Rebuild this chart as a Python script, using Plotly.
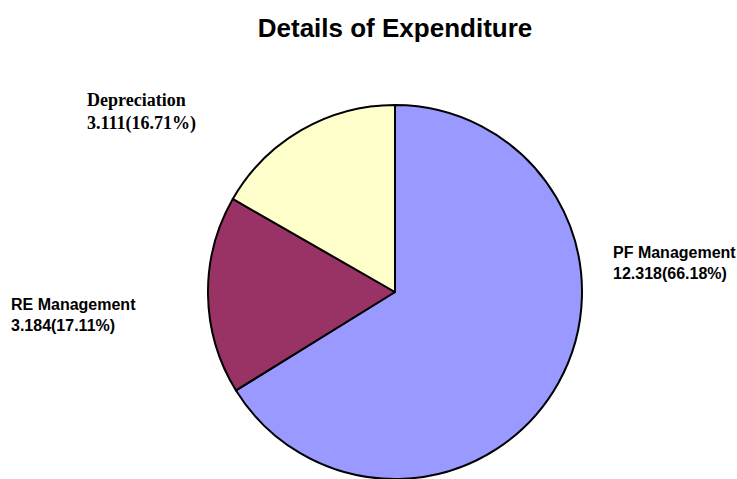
import plotly.graph_objects as go

# Expenditure breakdown
categories = ["PF Management", "RE Management", "Depreciation"]
amounts = [12.318, 3.184, 3.111]
percents = [66.18, 17.11, 16.71]
colors = ["#9999FF", "#993366", "#FFFFCC"]

W, H = 737, 479
cx, cy, r = 395, 292, 187  # pie centre and radius in pixels

fig = go.Figure(
    go.Pie(
        labels=categories,
        values=amounts,
        sort=False,
        direction="clockwise",
        rotation=0,
        marker=dict(colors=colors, line=dict(color="#000000", width=2)),
        textinfo="none",
        hoverinfo="label+value+percent",
        showlegend=False,
        domain=dict(
            x=[(cx - r) / W, (cx + r) / W],
            y=[max(0.0, (H - cy - r) / H), min(1.0, (H - cy + r) / H)],
        ),
    )
)

# Label placement (left edge, top edge in pixels), font family and size per slice
label_pos = {
    "PF Management": (611, 242, "Arial", 16),
    "RE Management": (9, 294, "Arial", 16),
    "Depreciation": (85, 88, "Liberation Serif, Times New Roman, serif", 18),
}

for name, amt, pct in zip(categories, amounts, percents):
    x0, y0, fam, size = label_pos[name]
    fig.add_annotation(
        x=x0 / W,
        y=1 - y0 / H,
        xref="paper",
        yref="paper",
        xanchor="left",
        yanchor="top",
        align="left",
        showarrow=False,
        text=f"<b>{name}<br>{amt:.3f}({pct:.2f}%)</b>",
        font=dict(family=fam, size=size, color="#000000"),
    )

fig.update_layout(
    width=W,
    height=H,
    margin=dict(l=0, r=0, t=0, b=0),
    paper_bgcolor="#FFFFFF",
    plot_bgcolor="#FFFFFF",
    title=dict(
        text="<b>Details of Expenditure</b>",
        x=395 / W,
        xanchor="center",
        y=1 - 28 / H,
        yanchor="middle",
        font=dict(family="Arial", size=26, color="#000000"),
    ),
)

fig.write_html("out.html")
